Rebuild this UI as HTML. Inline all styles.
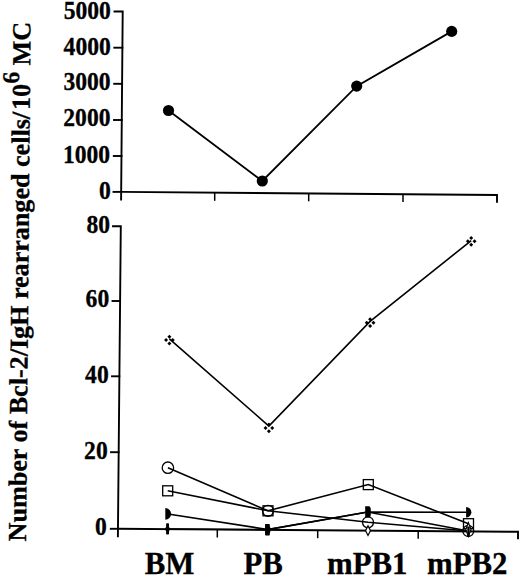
<!DOCTYPE html>
<html><head><meta charset="utf-8"><style>
html,body{margin:0;padding:0;background:#fff;width:520px;height:576px;overflow:hidden}
svg{display:block}
text{font-family:"Liberation Serif",serif;font-weight:bold;fill:#000;stroke:#000;stroke-width:0.3px}
</style></head><body>
<svg width="520" height="576" viewBox="0 0 520 576">
<defs>
<g id="q">
<path d="M0,-5.35 L2.00,-3.35 L0,-1.35 L-2.00,-3.35Z M0,1.35 L2.00,3.35 L0,5.35 L-2.00,3.35Z M-3.35,-2.00 L-1.35,0 L-3.35,2.00 L-5.35,0Z M3.35,-2.00 L5.35,0 L3.35,2.00 L1.35,0Z"/>
</g>
</defs>
<!-- Y title -->
<text font-size="26.1" transform="translate(26,541.4) rotate(-89.5)">Number of Bcl-2/IgH rearranged cells/<tspan dx="1.9">10</tspan><tspan font-size="24" dy="-11">6</tspan><tspan dy="11"> MC</tspan></text>

<!-- TOP CHART axes -->
<g stroke="#000" stroke-width="1.9" fill="none" stroke-linecap="square">
<polyline points="114.5,11.5 122.7,11.5 121.1,199.6"/>
<line x1="114.3" y1="47.7" x2="122.4" y2="47.7"/>
<line x1="114.2" y1="83.8" x2="122.1" y2="83.8"/>
<line x1="114" y1="120" x2="121.8" y2="120"/>
<line x1="113.8" y1="156" x2="121.5" y2="156"/>
<line x1="113.5" y1="191.9" x2="121" y2="191.9"/>
<polyline points="121.2,191.9 497,195 497,202.7" stroke-linecap="butt"/>
<g stroke-width="1.5" stroke-linecap="butt"><line x1="214.7" y1="192.6" x2="214.7" y2="200.8"/>
<line x1="308.7" y1="193.4" x2="308.7" y2="201.3"/>
<line x1="403" y1="194.2" x2="403" y2="202"/></g>
</g>
<g font-size="23.6" text-anchor="end">
<text transform="translate(110.9,18.7) scale(1,1.05)">5000</text>
<text transform="translate(110.8,54.8) scale(1,1.05)">4000</text>
<text transform="translate(110.6,90.3) scale(1,1.05)">3000</text>
<text transform="translate(110.5,126.3) scale(1,1.05)">2000</text>
<text transform="translate(110.1,162.8) scale(1,1.05)">1000</text>
<text transform="translate(110.7,198.6) scale(1,1.05)">0</text>
</g>
<polyline points="168.5,110.5 262.3,181 356.7,86.1 451.7,31.4" stroke="#000" stroke-width="1.8" fill="none"/>
<g fill="#000">
<circle cx="168.5" cy="110.5" r="5.6"/>
<circle cx="262.3" cy="181" r="5.6"/>
<circle cx="356.7" cy="86.1" r="5.6"/>
<circle cx="451.7" cy="31.4" r="5.6"/>
</g>

<!-- BOTTOM CHART axes -->
<g stroke="#000" stroke-width="1.9" fill="none" stroke-linecap="square">
<polyline points="113,226.2 120.8,226.2 117.9,536.2"/>
<line x1="112.5" y1="301" x2="120" y2="301"/>
<line x1="112" y1="376.3" x2="119.3" y2="376.3"/>
<line x1="111" y1="452.2" x2="118.6" y2="452.2"/>
<line x1="110.8" y1="528.8" x2="118" y2="528.8"/>
<polyline points="118,528.8 518,531.8 518,539.3" stroke-linecap="butt"/>
<g stroke-width="1.5" stroke-linecap="butt"><line x1="217.3" y1="529.5" x2="217.3" y2="537.5"/>
<line x1="317.7" y1="530.3" x2="317.7" y2="538.2"/>
<line x1="418.2" y1="531" x2="418.2" y2="538.8"/></g>
</g>
<g font-size="23.6" text-anchor="end">
<text transform="translate(110.0,232.9) scale(1,1.05)">80</text>
<text transform="translate(109.2,307.3) scale(1,1.05)">60</text>
<text transform="translate(108.7,382.8) scale(1,1.05)">40</text>
<text transform="translate(107.7,458.6) scale(1,1.05)">20</text>
<text transform="translate(106.7,535.3) scale(1,1.05)">0</text>
</g>
<g font-size="30.8" text-anchor="middle">
<text x="169.5" y="573.6">BM</text>
<text x="263.2" y="573.8">PB</text>
<text x="367.2" y="573.8">mPB1</text>
<text x="467.3" y="573.8">mPB2</text>
</g>

<!-- series lines -->
<g stroke="#000" stroke-width="1.6" fill="none">
<polyline points="169.4,338.9 268.9,426.1 370.1,321.4 471.2,240.6"/>
<polyline points="167.9,467.7 268,510.8 368,522.3 468.3,531"/>
<polyline points="167.7,490.8 268,510.8 368.3,484.6 468.5,523.7"/>
<polyline points="168,514 267.7,529.5 367.7,512 466.5,512.3"/>
<polyline points="167.7,529 267.7,529.6 367.7,512 468.3,531"/>
</g>
<!-- markers -->
<g fill="#000">
<use href="#q" x="169.4" y="340.1"/>
<use href="#q" x="268.9" y="427.9"/>
<use href="#q" x="370.1" y="322.7"/>
<use href="#q" x="471.2" y="241.3"/>
</g>
<g fill="none" stroke="#000" stroke-width="1.3">
<circle cx="167.9" cy="467.7" r="5.7"/>
<circle cx="268" cy="510.8" r="5.5"/>
<circle cx="368" cy="522.3" r="5.5"/>
<circle cx="468.3" cy="531" r="5.5"/>
<rect x="162.7" y="485.8" width="10" height="10"/>
<rect x="263" y="505.8" width="10" height="10"/>
<rect x="363.3" y="479.6" width="10" height="10"/>
<rect x="463.5" y="518.7" width="10" height="10"/>
</g>
<g fill="#fff" stroke="#000" stroke-width="1.2">
<path d="M368,525.8 L370.5,530.6 L368,535.5 L365.5,530.6Z"/>
<path d="M468.4,522.6 L471,529.5 L468.4,536.4 L465.8,529.5Z"/>
</g>
<g fill="#000">
<path d="M165.3,508.1 A5.8,5.8 0 0 1 165.3,519.7Z"/>
<path d="M265.1,524.1 A5.6,5.6 0 0 1 265.1,535.3Z"/>
<path d="M365.2,506.2 L369.2,506.2 Q370.8,506.6 370.8,510 L370.8,514 Q370.8,517.4 369.2,517.6 L365.2,517.6Z"/>
<path d="M466.1,507 A5.3,5.3 0 0 1 466.1,517.6Z"/>
<rect x="166.1" y="523.3" width="2.9" height="11.3" rx="0.8"/>
<ellipse cx="167.55" cy="529" rx="2.4" ry="2.2"/>
<rect x="265.5" y="524" width="4.3" height="11.5" rx="0.8"/>
<rect x="467.3" y="526.5" width="2.4" height="10" rx="0.8"/>
</g>
</svg>
</body></html>
